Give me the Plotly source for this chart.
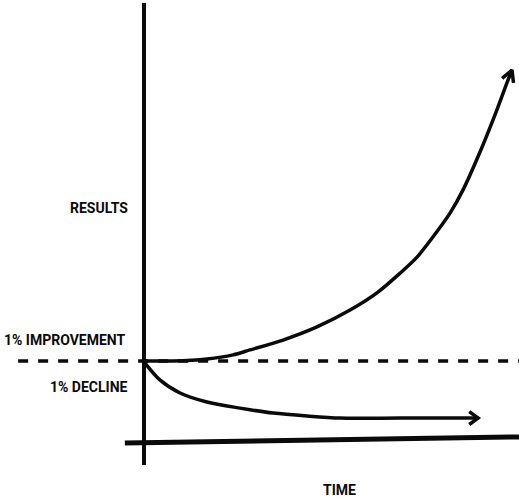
import numpy as np
import plotly.graph_objects as go

# ---- data (abstract units) ----
improve_time = [0, 7.9, 17.1, 24.2, 28.8, 37.8, 47.0, 56.0, 63.3, 69.6, 74.2, 78.5,
                83.2, 86.7, 91.3, 95.9, 98.6, 100]
improve_result = [0, 0, 0.7, 2.1, 3.8, 7.2, 11.7, 17.5, 23.4, 30.2, 35.7, 42.6,
                  50.9, 58.8, 71.8, 86.3, 95.5, 100]

decline_time = [0, 4.3, 9.8, 17.1, 26.1, 35.1, 44.3, 53.3, 69.6, 90.8]
decline_result = [-0.3, -6.5, -11.0, -14.1, -16.2, -17.9, -18.9, -19.6, -19.6, -19.6]

baseline_time = [-34.2, 101.9]
baseline_result = [0, 0]

yaxis_time = [0, 0]
yaxis_result = [123.0, -35.7]

xaxis_time = [-5.2, 101.9]
xaxis_result = [-28.2, -26.1]

labels = ["RESULTS", "1% IMPROVEMENT", "1% DECLINE", "TIME"]

W, H = 519, 504
XR = [-39.13, 101.90]
YR = [-49.14, 124.05]
sx = W / (XR[1] - XR[0])
sy = H / (YR[1] - YR[0])

INK = "#0a0a0a"
FONT = "Roboto, Noto Sans, sans-serif"

fig = go.Figure()


def line(x, y, width, dash=None, shape="linear"):
    ln = dict(color=INK, width=width, dash=dash, shape=shape)
    if shape == "spline":
        ln["smoothing"] = 0.8
    fig.add_trace(go.Scatter(x=x, y=y, mode="lines", line=ln,
                             hoverinfo="skip", showlegend=False))


def arrow_head(x, y, size=12, spread=30):
    # open V-shaped arrowhead at the end of a series, computed in pixel space
    x1, y1 = x[-1] * sx, y[-1] * sy
    x0, y0 = x[-2] * sx, y[-2] * sy
    ang = np.arctan2(y1 - y0, x1 - x0)
    xs, ys = [], []
    for s in (+1, -1):
        a = ang + np.pi + s * np.radians(spread)
        xs.append((x1 + size * np.cos(a)) / sx)
        ys.append((y1 + size * np.sin(a)) / sy)
    line([xs[0], x[-1], xs[1]], [ys[0], y[-1], ys[1]], 3.5)


line(yaxis_time, yaxis_result, 4)
line(xaxis_time, xaxis_result, 5)
line(baseline_time, baseline_result, 3.5, dash="10px,10px")
line(improve_time, improve_result, 3.5, shape="spline")
line(decline_time, decline_result, 3.5, shape="spline")
arrow_head(improve_time, improve_result, size=13, spread=28)
arrow_head(decline_time, decline_result, size=11, spread=36)

ann_font = dict(family=FONT, size=14, color=INK)
fig.add_annotation(x=-3.8, y=52.6, text="<b>%s</b>" % labels[0], showarrow=False,
                   xanchor="right", yanchor="middle", font=ann_font)
fig.add_annotation(x=-4.3, y=7.2, text="<b>%s</b>" % labels[1], showarrow=False,
                   xanchor="right", yanchor="middle", font=ann_font)
fig.add_annotation(x=-3.8, y=-8.9, text="<b>%s</b>" % labels[2], showarrow=False,
                   xanchor="right", yanchor="middle", font=ann_font)
fig.add_annotation(x=53.0, y=-44.3, text="<b>%s</b>" % labels[3], showarrow=False,
                   xanchor="center", yanchor="middle", font=ann_font)

fig.update_layout(
    width=W, height=H,
    margin=dict(l=0, r=0, t=0, b=0),
    paper_bgcolor="white", plot_bgcolor="white",
    xaxis=dict(range=XR, visible=False, fixedrange=True),
    yaxis=dict(range=YR, visible=False, fixedrange=True),
    showlegend=False,
)

fig.write_html("out.html", config={"displayModeBar": False},
               post_script="document.body.style.margin='0';")
